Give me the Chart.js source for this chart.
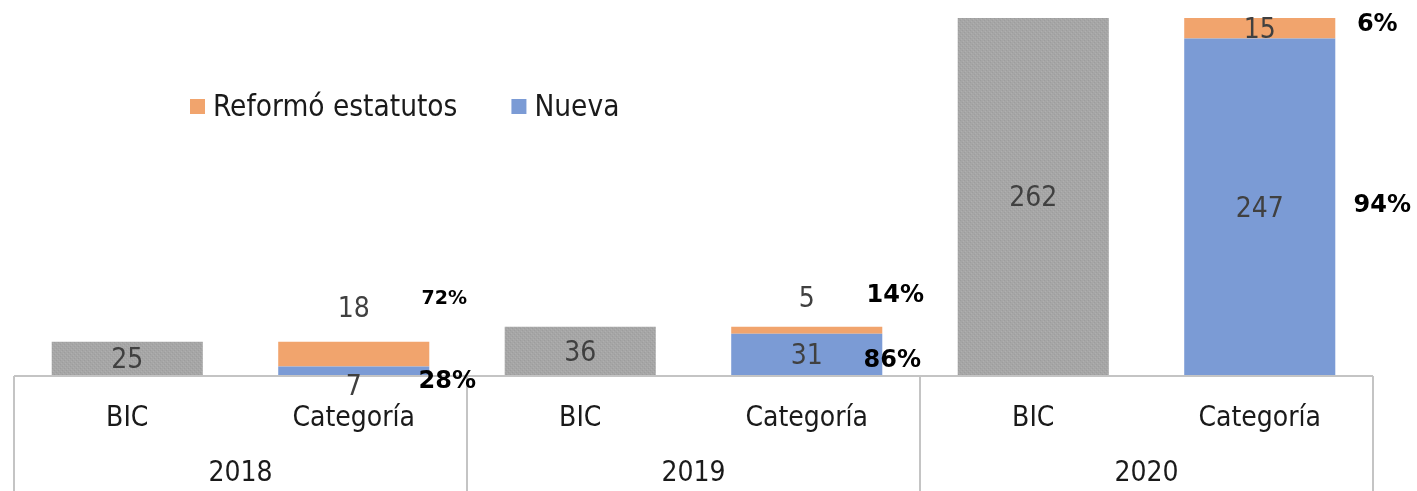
<!DOCTYPE html>
<html>
<head>
<meta charset="utf-8">
<script src="https://cdn.jsdelivr.net/npm/chart.js@4/dist/chart.umd.min.js"></script>
<style>
  html, body { margin: 0; padding: 0; background: #fff; }
  #wrap { width: 1417px; height: 491px; position: relative; }
</style>
</head>
<body>
<div id="wrap"><canvas id="chart"></canvas></div>
<script>
// datos por año
const years = ['2018', '2019', '2020'];
const groups = ['BIC', 'Categoría'];
const bic = [25, 36, 262];
const nueva = [7, 31, 247];
const reformo = [18, 5, 15];

const FONT = "'DejaVu Sans Condensed', 'DejaVu Sans', sans-serif";
const FONT_BOLD = "'DejaVu Sans', sans-serif";

// etiquetas de dos niveles: BIC / Categoría dentro de cada año
const labels = [];
const bicData = [];
const nuevaData = [];
const reformoData = [];
years.forEach((y, i) => {
    groups.forEach(g => labels.push(g));
    bicData.push(bic[i], null);
    nuevaData.push(null, nueva[i]);
    reformoData.push(null, reformo[i]);
});

// textura gris de las barras BIC
function greyPattern() {
    const c = document.createElement('canvas');
    c.width = 4; c.height = 4;
    const g = c.getContext('2d');
    g.fillStyle = '#a6a6a6';
    g.fillRect(0, 0, 4, 4);
    g.fillStyle = '#9d9d9d';
    g.fillRect(0, 0, 1, 1); g.fillRect(2, 2, 1, 1);
    g.fillStyle = '#afafaf';
    g.fillRect(1, 3, 1, 1); g.fillRect(3, 1, 1, 1);
    return g.createPattern(c, 'repeat');
}

// desplazamientos (px) de las etiquetas de valor que no caben en su tramo
const valueShift = { 1: [15, 0, 0], 2: [-46, -33, 0] };
// posición de los porcentajes respecto al borde derecho de la barra y al centro del tramo
const pctPos = {
    1: [[18, 11], [10, 6], [47, -1]],
    2: [[15, -55], [13, -34], [42, -3]]
};
const pctSize = { 1: [24, 24, 24], 2: [19, 24, 24] };

const annotate = {
    id: 'annotate',
    afterDraw(chart) {
        const ctx = chart.ctx;
        const area = chart.chartArea;
        const xs = chart.scales.x;
        const catW = xs.width / labels.length;
        ctx.save();

        // línea base y separadores de años
        ctx.strokeStyle = '#c4c4c4';
        ctx.lineWidth = 2;
        ctx.beginPath();
        ctx.moveTo(area.left, area.bottom);
        ctx.lineTo(area.right, area.bottom);
        for (let i = 0; i <= years.length; i++) {
            const px = Math.round(xs.left + i * groups.length * catW);
            ctx.moveTo(px, area.bottom);
            ctx.lineTo(px, chart.height);
        }
        ctx.stroke();

        // años
        ctx.fillStyle = '#1a1a1a';
        ctx.font = '28px ' + FONT;
        ctx.textAlign = 'center';
        ctx.textBaseline = 'middle';
        years.forEach((y, i) => {
            const cx = xs.left + (i + 0.5) * groups.length * catW;
            ctx.fillText(y, cx, 474);
        });

        // etiquetas de valor
        chart.data.datasets.forEach((ds, di) => {
            const meta = chart.getDatasetMeta(di);
            let k = 0;
            meta.data.forEach((bar, j) => {
                const v = ds.data[j];
                if (v == null) return;
                const p = bar.getProps(['x', 'y', 'base', 'width'], true);
                const mid = (p.y + p.base) / 2;
                const shift = valueShift[di] ? valueShift[di][k] : 0;
                ctx.fillStyle = '#404040';
                ctx.font = '28px ' + FONT;
                ctx.fillText(String(v), p.x, mid + shift + 2);

                // porcentaje sobre el total de la categoría
                if (pctPos[di]) {
                    const year = Math.floor(j / groups.length);
                    const total = nueva[year] + reformo[year];
                    const pct = Math.round(v / total * 100) + '%';
                    const [dx, dy] = pctPos[di][k];
                    ctx.fillStyle = '#000';
                    ctx.font = 'bold ' + pctSize[di][k] + 'px ' + FONT_BOLD;
                    ctx.fillText(pct, p.x + p.width / 2 + dx, mid + dy);
                }
                k++;
            });
        });

        // leyenda dentro del área de trazado
        ctx.textAlign = 'left';
        ctx.font = '29.5px ' + FONT;
        let lx = 190;
        const ly = 107;
        [2, 1].forEach(di => {
            const ds = chart.data.datasets[di];
            ctx.fillStyle = ds.backgroundColor;
            ctx.fillRect(lx, ly - 8, 15, 15);
            ctx.fillStyle = '#1a1a1a';
            ctx.fillText(ds.label, lx + 23, ly + 1);
            lx += 23 + ctx.measureText(ds.label).width + 54;
        });
        ctx.restore();
    }
};

const ctx = document.getElementById('chart').getContext('2d');
new Chart(ctx, {
    type: 'bar',
    data: {
        labels: labels,
        datasets: [
            { label: 'BIC', data: bicData, backgroundColor: greyPattern() },
            { label: 'Nueva', data: nuevaData, backgroundColor: '#7b9bd5' },
            { label: 'Reformó estatutos', data: reformoData, backgroundColor: '#f1a46d' }
        ]
    },
    options: {
        responsive: true,
        maintainAspectRatio: false,
        animation: false,
        layout: { padding: { left: 14, right: 44, top: 18, bottom: 0 } },
        datasets: { bar: { categoryPercentage: 1, barPercentage: 0.667 } },
        plugins: { legend: { display: false }, tooltip: { enabled: false } },
        scales: {
            x: {
                stacked: true,
                offset: true,
                grid: { display: false },
                border: { display: false },
                ticks: {
                    color: '#1a1a1a',
                    font: { family: FONT, size: 28 },
                    padding: 18,
                    maxRotation: 0,
                    autoSkip: false
                },
                afterFit(scale) { scale.height = 115; }
            },
            y: {
                stacked: true,
                display: false,
                min: 0,
                max: 262
            }
        }
    },
    plugins: [annotate]
});
</script>
</body>
</html>
